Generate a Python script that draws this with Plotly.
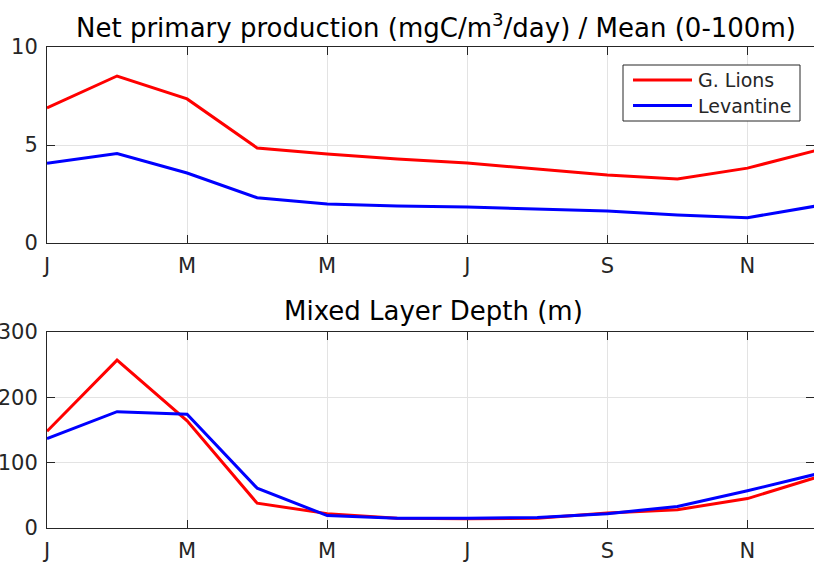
import plotly.graph_objects as go

months = [1, 2, 3, 4, 5, 6, 7, 8, 9, 10, 11, 12]
month_ticks = [1, 3, 5, 7, 9, 11]
month_labels = ["J", "M", "M", "J", "S", "N"]

npp_lions = [6.89, 8.52, 7.35, 4.85, 4.54, 4.29, 4.08, 3.78, 3.47, 3.27, 3.82, 4.74]
npp_levantine = [4.07, 4.56, 3.57, 2.31, 1.99, 1.89, 1.84, 1.73, 1.63, 1.43, 1.29, 1.90]

mld_lions = [148, 257, 164, 38, 22, 15, 14, 15, 23, 28, 45, 78]
mld_levantine = [137, 178, 174, 61, 19, 15, 15, 16, 22, 33, 57, 83]

series_names = ["G. Lions", "Levantine"]

RED = "#ff0000"
BLUE = "#0000ff"
AX = "#262626"
GRID = "#e3e3e3"
FONT = "DejaVu Sans"

W, H = 814, 564
L = 47

fig = go.Figure()
fig.add_trace(go.Scatter(x=months, y=npp_lions, mode="lines", name=series_names[0],
                         line=dict(color=RED, width=3), xaxis="x", yaxis="y"))
fig.add_trace(go.Scatter(x=months, y=npp_levantine, mode="lines", name=series_names[1],
                         line=dict(color=BLUE, width=3), xaxis="x", yaxis="y"))
fig.add_trace(go.Scatter(x=months, y=mld_lions, mode="lines", name=series_names[0],
                         line=dict(color=RED, width=3), xaxis="x2", yaxis="y2"))
fig.add_trace(go.Scatter(x=months, y=mld_levantine, mode="lines", name=series_names[1],
                         line=dict(color=BLUE, width=3), xaxis="x2", yaxis="y2"))

xcommon = dict(range=[1, 11.95], tickmode="array", tickvals=month_ticks, ticktext=month_labels,
               ticks="inside", ticklen=8, tickcolor=AX, showline=True, linecolor=AX, linewidth=1,
               mirror="ticks", showgrid=True, gridcolor=GRID, gridwidth=1, zeroline=False,
               tickfont=dict(family=FONT, size=21, color=AX), ticklabelstandoff=4,
               automargin=False)
ycommon = dict(ticks="inside", ticklen=8, tickcolor=AX, showline=True, linecolor=AX, linewidth=1,
               mirror="ticks", showgrid=True, gridcolor=GRID, gridwidth=1, zeroline=False,
               tickfont=dict(family=FONT, size=21, color=AX), ticklabelstandoff=4,
               automargin=False)


def py(px):
    return 1 - px / H


def pxx(px):
    return (px - L) / (W - L)


# custom MATLAB-style legend (box, line samples, labels)
leg_box = dict(x0=623, x1=800, y0=65, y1=121)
leg_rows = [80, 105.5]
leg_colors = [RED, BLUE]
shapes = [dict(type="rect", xref="paper", yref="paper",
               x0=pxx(leg_box["x0"]), x1=pxx(leg_box["x1"]),
               y0=py(leg_box["y1"]), y1=py(leg_box["y0"]),
               line=dict(color=AX, width=1), fillcolor="white", layer="above")]
annotations = []
for name, col, ry in zip(series_names, leg_colors, leg_rows):
    shapes.append(dict(type="line", xref="paper", yref="paper",
                       x0=pxx(633), x1=pxx(692), y0=py(ry), y1=py(ry),
                       line=dict(color=col, width=3), layer="above"))
    annotations.append(dict(text=name, xref="paper", yref="paper", x=pxx(696), y=py(ry),
                            xanchor="left", yanchor="middle", showarrow=False,
                            font=dict(family=FONT, size=19, color=AX)))

annotations += [
    dict(text="Net primary production (mgC/m<sup>3</sup>/day) / Mean (0-100m)",
         xref="paper", yref="paper", x=pxx(436), y=py(26),
         xanchor="center", yanchor="middle", showarrow=False,
         font=dict(family=FONT, size=26, color="black")),
    dict(text="Mixed Layer Depth (m)",
         xref="paper", yref="paper", x=pxx(433), y=py(311),
         xanchor="center", yanchor="middle", showarrow=False,
         font=dict(family=FONT, size=26, color="black")),
]

fig.update_layout(
    width=W, height=H,
    margin=dict(l=L, r=0, t=0, b=0, autoexpand=False),
    paper_bgcolor="white", plot_bgcolor="white",
    showlegend=False,
    xaxis=dict(domain=[0, 1], anchor="y", **xcommon),
    yaxis=dict(domain=[py(243), py(47)], anchor="x", range=[0, 10], tickvals=[0, 5, 10], **ycommon),
    xaxis2=dict(domain=[0, 1], anchor="y2", **xcommon),
    yaxis2=dict(domain=[py(528), py(332)], anchor="x2", range=[0, 300],
                tickvals=[0, 100, 200, 300], **ycommon),
    shapes=shapes,
    annotations=annotations,
)

fig.write_html("out.html")
